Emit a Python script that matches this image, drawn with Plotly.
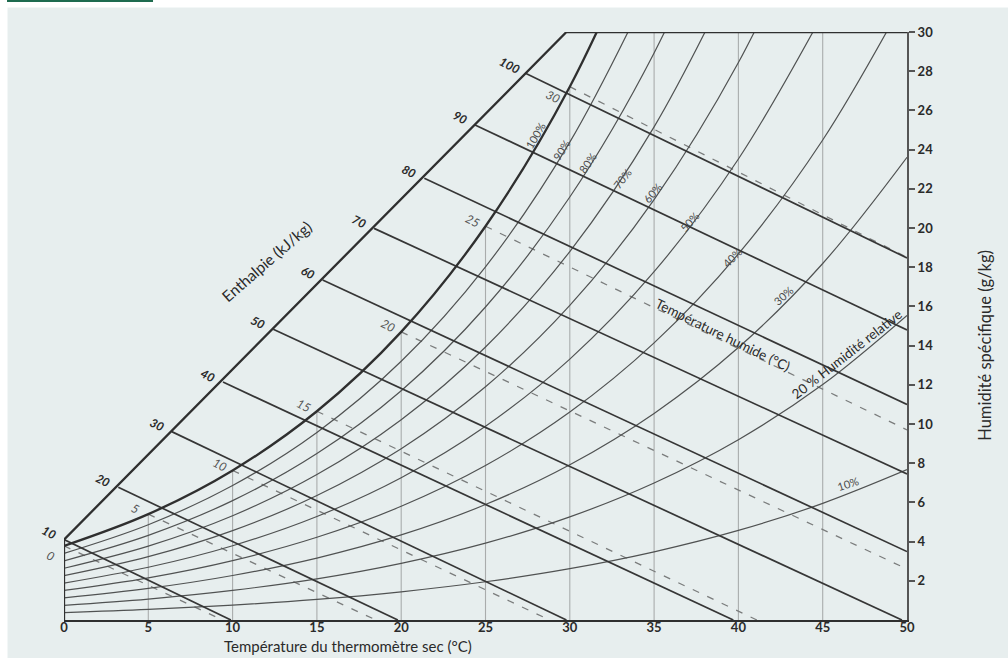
import plotly.graph_objects as go

# ---------------- data ----------------
T_grid = [0, 5, 10, 15, 20, 25, 30, 35, 40, 45, 50]

# specific humidity (g/kg) of relative-humidity curves at T_grid
rh_levels = [100, 90, 80, 70, 60, 50, 40, 30, 20, 10]
rh_100 = [3.78, 5.40, 7.63, 10.65, 14.70, 20.09, 27.21, 36.58]
rh_90 = [3.40, 4.86, 6.86, 9.57, 13.20, 18.02, 24.38, 32.73]
rh_80 = [3.02, 4.32, 6.09, 8.49, 11.70, 15.97, 21.58, 28.93, 38.51]
rh_70 = [2.64, 3.77, 5.32, 7.42, 10.22, 13.93, 18.80, 25.16, 33.44]
rh_60 = [2.26, 3.23, 4.56, 6.35, 8.74, 11.90, 16.05, 21.45, 28.44, 37.47]
rh_50 = [1.88, 2.69, 3.79, 5.28, 7.26, 9.88, 13.31, 17.77, 23.52, 30.91]
rh_40 = [1.51, 2.15, 3.03, 4.22, 5.80, 7.88, 10.61, 14.14, 18.68, 24.49, 31.89]
rh_30 = [1.13, 1.61, 2.27, 3.16, 4.34, 5.89, 7.92, 10.54, 13.90, 18.19, 23.61]
rh_20 = [0.75, 1.07, 1.51, 2.10, 2.89, 3.92, 5.26, 6.99, 9.20, 12.01, 15.54]
rh_10 = [0.38, 0.54, 0.76, 1.05, 1.44, 1.95, 2.62, 3.48, 4.57, 5.95, 7.67]

# enthalpy lines (kJ/kg): start on the enthalpy scale, end on the frame
h_vals = [10, 20, 30, 40, 50, 60, 70, 80, 90, 100]
h_start_T = [0.0, 3.22, 6.39, 9.43, 12.41, 15.34, 18.39, 21.37, 24.38, 27.34]
h_start_W = [4.10, 6.77, 9.61, 12.14, 14.83, 17.35, 19.98, 22.54, 25.26, 27.91]
h_end_T = [9.9, 19.8, 29.8, 39.7, 49.7, 50, 50, 50, 50, 50]
h_end_W = [0, 0, 0, 0, 0, 3.49, 7.45, 11.0, 14.8, 18.47]

# wet-bulb lines (°C): start on saturation curve
wb_vals = [0, 5, 10, 15, 20, 25, 30]
wb_start_W = [3.78, 5.40, 7.63, 10.65, 14.70, 20.09, 27.21]
wb_end_T = [9.4, 18.5, 28.8, 41.1, 50, 50, 50]
wb_end_W = [0, 0, 0, 0, 2.6, 9.7, 18.5]

# vertical dry-bulb lines
vert_T = [5, 10, 15, 20, 25, 30, 35, 40, 45]
vert_top = [5.40, 7.63, 10.65, 14.70, 20.09, 27.21, 30, 30, 30]

# frame: enthalpy scale line and outline
scale_T = [0, 29.8]
scale_W = [4.10, 30]

x_ticks = [0, 5, 10, 15, 20, 25, 30, 35, 40, 45, 50]
y_ticks = [2, 4, 6, 8, 10, 12, 14, 16, 18, 20, 22, 24, 26, 28, 30]

BG = "#e7eeee"
DARK = "#2f2f2f"
TXT = "#2a2a2a"
FONT = "Lato"

fig = go.Figure()

# vertical lines
for t, top in zip(vert_T, vert_top):
    fig.add_trace(go.Scatter(x=[t, t], y=[0, top], mode="lines",
                             line=dict(color="#a9acac", width=1.1),
                             hoverinfo="skip", showlegend=False))

# wet-bulb lines (dashed)
for tw, ws, te, we in zip(wb_vals, wb_start_W, wb_end_T, wb_end_W):
    fig.add_trace(go.Scatter(x=[tw, te], y=[ws, we], mode="lines",
                             line=dict(color="#7a7c7c", width=1.25, dash="7px,9px"),
                             hoverinfo="skip", showlegend=False))

# relative humidity curves
rh_series = [rh_90, rh_80, rh_70, rh_60, rh_50, rh_40, rh_30, rh_20, rh_10]
for s in rh_series:
    fig.add_trace(go.Scatter(x=T_grid[:len(s)], y=s, mode="lines",
                             line=dict(color="#505252", width=1.2, shape="spline"),
                             hoverinfo="skip", showlegend=False))

# enthalpy lines
for ts, ws, te, we in zip(h_start_T, h_start_W, h_end_T, h_end_W):
    fig.add_trace(go.Scatter(x=[ts, te], y=[ws, we], mode="lines",
                             line=dict(color="#363636", width=1.7),
                             hoverinfo="skip", showlegend=False))

# saturation curve
fig.add_trace(go.Scatter(x=T_grid[:len(rh_100)], y=rh_100, mode="lines",
                         line=dict(color=DARK, width=2.3, shape="spline"),
                         hoverinfo="skip", showlegend=False))

# frame: scale line, top, left edge
fig.add_trace(go.Scatter(x=scale_T + [50], y=scale_W + [30], mode="lines",
                         line=dict(color=DARK, width=2.3),
                         hoverinfo="skip", showlegend=False))
fig.add_trace(go.Scatter(x=[0, 0], y=[0, scale_W[0]], mode="lines",
                         line=dict(color=DARK, width=2.3),
                         hoverinfo="skip", showlegend=False))

ann = []
# enthalpy labels
for h, ts, ws in zip(h_vals, h_start_T, h_start_W):
    ann.append(dict(x=ts, y=ws, xref="x", yref="y", text=str(h), showarrow=False,
                    xshift=-15, yshift=7, textangle=27,
                    font=dict(family=FONT, size=12, color=TXT,
                              weight="bold", style="italic")))
# wet-bulb labels
for tw, ws in zip(wb_vals, wb_start_W):
    last = tw == wb_vals[-1]
    first = tw == wb_vals[0]
    ann.append(dict(x=tw, y=ws, xref="x", yref="y", text=str(tw), showarrow=False,
                    xshift=-14 if first else (-17 if last else -13),
                    yshift=-10 if first else (-10 if last else 6),
                    textangle=27,
                    font=dict(family=FONT, size=12, color="#555", style="italic")))

# RH labels
rh_lab = [("100%", 27.94, 24.74, -60), ("90%", 29.54, 23.98, -58),
          ("80%", 31.08, 23.32, -55), ("70%", 33.10, 22.55, -52),
          ("60%", 34.93, 21.79, -50), ("50%", 37.13, 20.31, -48),
          ("40%", 39.62, 18.52, -45), ("30%", 42.65, 16.58, -42),
          ("10%", 46.50, 6.99, -18)]
for txt, x, y, a in rh_lab:
    ann.append(dict(x=x, y=y, xref="x", yref="y", text=txt, showarrow=False,
                    textangle=a, font=dict(family=FONT, size=11, color="#4a4a4a")))

# titles
def ptxt(x, y, text, size, angle=0):
    return dict(x=x, y=y, xref="paper", yref="paper", showarrow=False, text=text,
                xanchor="center", yanchor="middle", textangle=angle,
                font=dict(family=FONT, size=size, color=TXT))

ann += [
    ptxt(0.337, -0.044, "Température du thermomètre sec (°C)", 15),
    ptxt(1.0925, 0.468, "Humidité spécifique (g/kg)", 16.5, -90),
    ptxt(0.2408, 0.6105, "Enthalpie (kJ/kg)", 15.5, -41),
    ptxt(0.7817, 0.4847, "Température humide (°C)", 13.5, 26),
    ptxt(0.9288, 0.4524, "20 % Humidité relative", 13.5, -38),
]

fig.update_layout(
    width=1008, height=658,
    margin=dict(l=64, r=101, t=32, b=38),
    paper_bgcolor=BG, plot_bgcolor=BG,
    showlegend=False,
    annotations=ann,
    shapes=[
        # white page strips at top and left
        dict(type="rect", xref="paper", yref="paper", x0=-0.1, x1=1.2,
             y0=1.0417, y1=1.06, fillcolor="white", line=dict(width=0), layer="below"),
        dict(type="rect", xref="paper", yref="paper", x0=-0.1, x1=-0.0670,
             y0=-0.1, y1=1.06, fillcolor="white", line=dict(width=0), layer="below"),
        # green rule at the top
        dict(type="rect", xref="paper", yref="paper", x0=-0.0676, x1=0.1056,
             y0=1.0510, y1=1.06, fillcolor="#1e6b4f", line=dict(width=0)),
    ],
    xaxis=dict(range=[0, 50], tickvals=x_ticks, showgrid=False, zeroline=False,
               showline=True, linecolor=DARK, linewidth=2.3, ticks="",
               ticklabelstandoff=-6,
               tickfont=dict(family=FONT, size=13, color=TXT, weight="bold"),
               fixedrange=True),
    yaxis=dict(range=[0, 30], tickvals=y_ticks, side="right", showgrid=False,
               zeroline=False, showline=True, linecolor="#555", linewidth=2,
               ticks="outside", ticklen=6, tickcolor="#555", tickwidth=1.5,
               tickfont=dict(family=FONT, size=13, color=TXT, weight="bold"),
               fixedrange=True),
)

fig.write_html("out.html", config={"displayModeBar": False},
               post_script="document.body.style.margin='0';document.body.style.padding='0';")
